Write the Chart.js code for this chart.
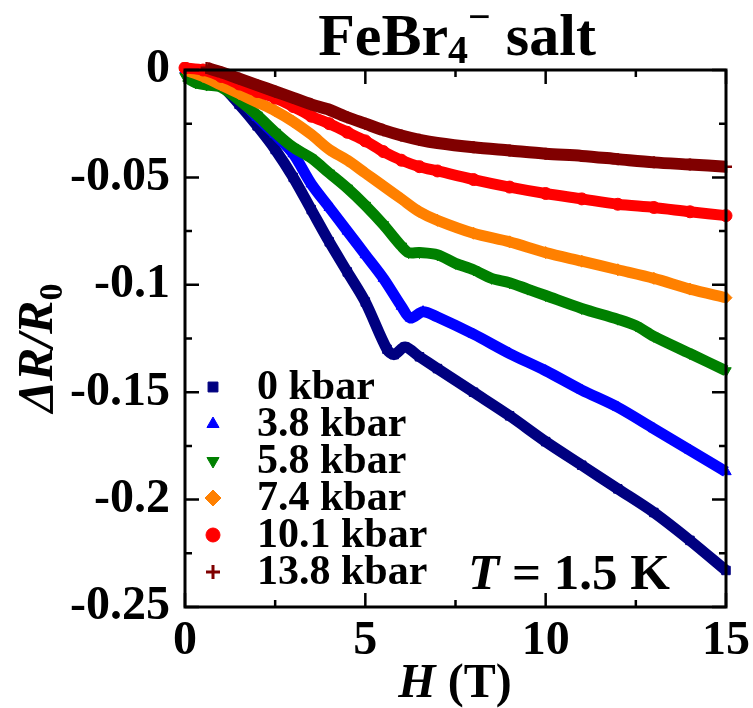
<!DOCTYPE html>
<html>
<head>
<meta charset="utf-8">
<script src="https://cdn.jsdelivr.net/npm/chart.js@4.4.0/dist/chart.umd.min.js"></script>
<style>
  html, body { margin: 0; padding: 0; background: #fff; }
  canvas { display: block; }
</style>
</head>
<body>
<canvas id="chart" width="753" height="708"></canvas>
<script>
const SERIF = '"Liberation Serif", "Times New Roman", serif';

// pressures, colours and marker shapes
const pressureLabels = ['0 kbar', '3.8 kbar', '5.8 kbar', '7.4 kbar', '10.1 kbar', '13.8 kbar'];
const seriesColors = ['#000080', '#0000ff', '#008000', '#ff8000', '#ff0000', '#800000'];
const markerStyles = ['rect', 'triangle', 'triangle', 'rectRot', 'circle', 'cross'];
const markerRotation = [0, 0, 180, 0, 0, 0];

// H (T) and dR/R0
const field0 = [0, 0.5, 1, 1.5, 2, 2.5, 3, 3.5, 4, 4.5, 5, 5.6, 5.8, 6.1, 6.5, 7, 8, 9, 10, 11, 12, 13, 14, 15];
const dr0 = [0, -0.002, -0.007, -0.016, -0.026, -0.037, -0.05, -0.065, -0.08, -0.094, -0.108, -0.13, -0.1325, -0.129, -0.1335, -0.139, -0.15, -0.161, -0.173, -0.184, -0.195, -0.206, -0.219, -0.233];

const field38 = [0, 0.5, 1, 1.5, 2, 2.5, 3, 3.5, 4, 4.5, 5, 5.5, 6, 6.25, 6.6, 7, 8, 9, 10, 11, 12, 13, 14, 15];
const dr38 = [0, -0.002, -0.006, -0.013, -0.022, -0.03, -0.039, -0.053, -0.064, -0.075, -0.086, -0.097, -0.11, -0.1155, -0.1125, -0.115, -0.123, -0.132, -0.14, -0.149, -0.157, -0.167, -0.177, -0.187];

const field58 = [0, 0.3, 0.6, 1, 1.5, 2, 2.5, 3, 3.5, 4, 4.5, 5, 5.5, 6, 6.2, 6.5, 7, 7.5, 8, 8.5, 9, 9.5, 10, 11, 12, 12.5, 13, 14, 15];
const dr58 = [-0.003, -0.006, -0.007, -0.008, -0.014, -0.021, -0.029, -0.036, -0.041, -0.048, -0.055, -0.063, -0.072, -0.082, -0.085, -0.085, -0.086, -0.09, -0.093, -0.097, -0.099, -0.102, -0.105, -0.111, -0.116, -0.119, -0.124, -0.132, -0.14];

const field74 = [0, 0.5, 1, 1.5, 2, 2.5, 3, 3.5, 4, 4.5, 5, 5.5, 6, 6.5, 7, 8, 9, 10, 11, 12, 13, 14, 15];
const dr74 = [0, -0.003, -0.007, -0.011, -0.015, -0.019, -0.024, -0.03, -0.037, -0.042, -0.048, -0.054, -0.06, -0.066, -0.07, -0.076, -0.08, -0.085, -0.089, -0.093, -0.097, -0.102, -0.106];

const field101 = [0, 0.5, 1, 1.5, 2, 2.5, 3, 3.5, 4, 4.5, 5, 5.5, 6, 6.5, 7, 8, 9, 10, 11, 12, 13, 14, 15];
const dr101 = [0.001, 0, -0.003, -0.0065, -0.01, -0.013, -0.017, -0.0215, -0.025, -0.029, -0.033, -0.038, -0.042, -0.045, -0.047, -0.051, -0.0545, -0.0575, -0.06, -0.0625, -0.064, -0.066, -0.0678];

const field138 = [0.6, 1, 1.5, 2, 2.5, 3, 3.5, 4, 4.5, 5, 5.5, 6, 6.5, 7, 8, 9, 10, 11, 12, 13, 14, 15];
const dr138 = [0.001, -0.001, -0.004, -0.007, -0.01, -0.013, -0.016, -0.0185, -0.022, -0.025, -0.028, -0.0305, -0.0325, -0.034, -0.036, -0.0375, -0.039, -0.04, -0.0415, -0.043, -0.044, -0.045];

const fields = [field0, field38, field58, field74, field101, field138];
const values = [dr0, dr38, dr58, dr74, dr101, dr138];

// axis ticks
const xMajorTicks = [0, 5, 10, 15];
const xMinorTicks = [2.5, 7.5, 12.5];
const yMajorTicks = [0, -0.05, -0.1, -0.15, -0.2, -0.25];
const yMinorTicks = [-0.025, -0.075, -0.125, -0.175, -0.225];

const datasets = pressureLabels.map((label, i) => ({
  label: label,
  data: fields[i].map((h, j) => ({ x: h, y: values[i][j] })),
  borderColor: seriesColors[i],
  backgroundColor: seriesColors[i],
  borderWidth: i === 5 ? 12 : 11,
  tension: 0.3,
  pointStyle: markerStyles[i],
  rotation: markerRotation[i],
  pointRadius: 6,
  pointBorderWidth: i === 5 ? 2.5 : 1,
  pointBackgroundColor: seriesColors[i],
  pointBorderColor: seriesColors[i],
  order: 6 - i,
  clip: 8
}));

function drawRich(ctx, parts, x, y, align) {
  let total = 0;
  parts.forEach(p => { ctx.font = p[1]; total += ctx.measureText(p[0]).width; });
  let cx = align === 'center' ? x - total / 2 : x;
  parts.forEach(p => {
    ctx.font = p[1];
    ctx.fillText(p[0], cx, y + (p[2] || 0));
    cx += ctx.measureText(p[0]).width;
  });
}

const framePlugin = {
  id: 'frame',
  afterDatasetsDraw(chart) {
    const ctx = chart.ctx;
    const a = chart.chartArea;
    const xs = chart.scales.x, ys = chart.scales.y;
    ctx.save();
    ctx.strokeStyle = '#000';
    ctx.lineWidth = 3;
    ctx.strokeRect(a.left, a.top, a.right - a.left, a.bottom - a.top);
    ctx.lineWidth = 2.5;
    ctx.beginPath();
    const xt = (v, len) => {
      const px = xs.getPixelForValue(v);
      ctx.moveTo(px, a.bottom); ctx.lineTo(px, a.bottom - len);
      ctx.moveTo(px, a.top); ctx.lineTo(px, a.top + len);
    };
    const yt = (v, len) => {
      const py = ys.getPixelForValue(v);
      ctx.moveTo(a.left, py); ctx.lineTo(a.left + len, py);
      ctx.moveTo(a.right, py); ctx.lineTo(a.right - len, py);
    };
    xMajorTicks.forEach(v => xt(v, 14));
    xMinorTicks.forEach(v => xt(v, 7));
    yMajorTicks.forEach(v => yt(v, 14));
    yMinorTicks.forEach(v => yt(v, 7));
    ctx.stroke();
    ctx.restore();
  },
  afterDraw(chart) {
    const ctx = chart.ctx;
    ctx.save();
    ctx.fillStyle = '#000';
    ctx.textBaseline = 'alphabetic';

    // title
    drawRich(ctx, [
      ['FeBr', 'bold 60px ' + SERIF],
      ['4', 'bold 40px ' + SERIF, 8],
      ['\u2212', 'bold 40px ' + SERIF, -25],
      [' salt', 'bold 60px ' + SERIF]
    ], 457, 55, 'center');

    // x axis title
    drawRich(ctx, [
      ['H', 'italic bold 48px ' + SERIF],
      [' (T)', 'bold 48px ' + SERIF]
    ], 455, 697, 'center');

    // y axis title
    ctx.save();
    ctx.translate(52, 348);
    ctx.rotate(-Math.PI / 2);
    drawRich(ctx, [
      ['\u0394R/R', 'italic bold 50px ' + SERIF],
      ['0', 'bold 34px ' + SERIF, 10]
    ], 0, 0, 'center');
    ctx.restore();

    // temperature note
    drawRich(ctx, [
      ['T', 'italic bold 51px ' + SERIF],
      [' = 1.5 K', 'bold 51px ' + SERIF]
    ], 468, 589, 'left');

    // legend
    const rowY = [387, 424, 461, 498, 535, 572];
    ctx.font = 'bold 42px ' + SERIF;
    ctx.textBaseline = 'middle';
    pressureLabels.forEach((label, i) => {
      ctx.fillStyle = seriesColors[i];
      ctx.strokeStyle = seriesColors[i];
      ctx.lineWidth = i === 5 ? 3 : 1;
      Chart.helpers.drawPoint(ctx, {
        pointStyle: markerStyles[i],
        rotation: markerRotation[i],
        radius: i === 3 ? 8 : 7,
        borderWidth: ctx.lineWidth
      }, 213, rowY[i]);
      ctx.fillStyle = '#000';
      ctx.fillText(label, 257, rowY[i] + 1);
    });
    ctx.restore();
  }
};

new Chart(document.getElementById('chart'), {
  type: 'line',
  data: { datasets: datasets },
  options: {
    responsive: false,
    animation: false,
    layout: { padding: { top: 70, right: 27, left: 0, bottom: 0 } },
    plugins: { legend: { display: false }, tooltip: { enabled: false } },
    scales: {
      x: {
        type: 'linear',
        min: 0, max: 15,
        afterFit(scale) { scale.height = 101; scale.paddingLeft = 0; scale.paddingRight = 0; },
        afterBuildTicks(scale) { scale.ticks = xMajorTicks.map(v => ({ value: v })); },
        grid: { display: false, drawTicks: false },
        border: { display: false },
        ticks: {
          padding: 6,
          color: '#000',
          font: { family: SERIF, size: 48, weight: 'bold' },
          maxRotation: 0,
          callback: v => String(v)
        }
      },
      y: {
        type: 'linear',
        min: -0.25, max: 0,
        afterFit(scale) { scale.width = 185; scale.paddingTop = 0; scale.paddingBottom = 0; },
        afterBuildTicks(scale) { scale.ticks = yMajorTicks.map(v => ({ value: v })); },
        grid: { display: false, drawTicks: false },
        border: { display: false },
        ticks: {
          padding: 15,
          color: '#000',
          font: { family: SERIF, size: 48, weight: 'bold' },
          callback: v => String(Number(v.toFixed(3)))
        }
      }
    }
  },
  plugins: [framePlugin]
});
</script>
</body>
</html>
